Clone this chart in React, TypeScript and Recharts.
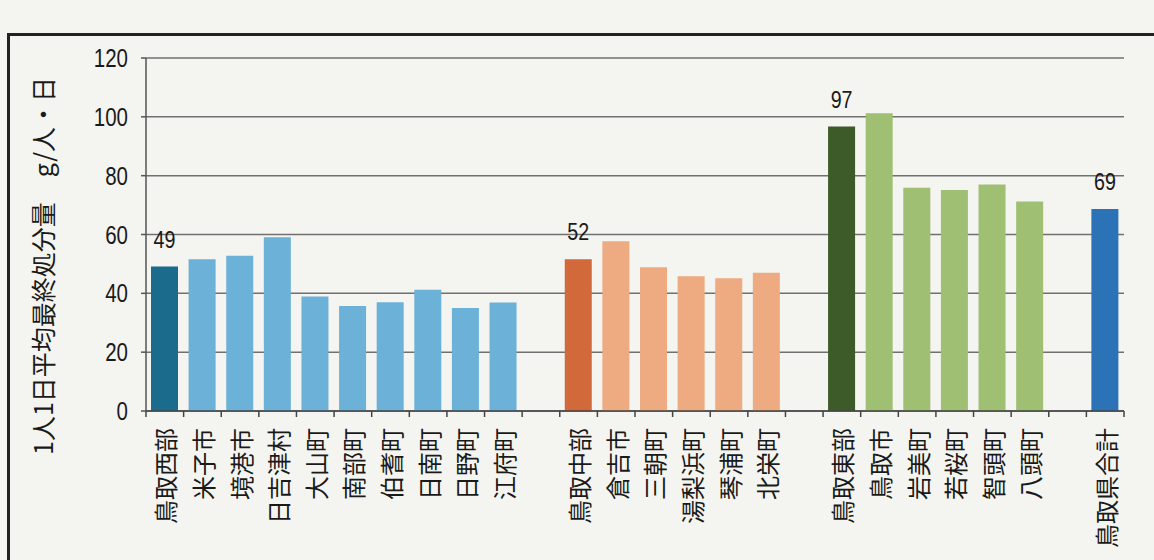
import { BarChart, Bar, XAxis, YAxis, CartesianGrid, Cell, LabelList } from 'recharts';

// 1人1日平均最終処分量（g/人・日）, 平成29(2017)年度
const categories = [
  '鳥取西部', '米子市', '境港市', '日吉津村', '大山町', '南部町', '伯耆町', '日南町', '日野町', '江府町',
  '',
  '鳥取中部', '倉吉市', '三朝町', '湯梨浜町', '琴浦町', '北栄町',
  '',
  '鳥取東部', '鳥取市', '岩美町', '若桜町', '智頭町', '八頭町',
  '',
  '鳥取県合計',
];

const values: (number | null)[] = [
  49.1, 51.6, 52.8, 59.1, 38.9, 35.7, 37.0, 41.2, 35.0, 36.9,
  null,
  51.6, 57.7, 48.9, 45.8, 45.1, 47.0,
  null,
  96.7, 101.2, 75.9, 75.1, 77.0, 71.2,
  null,
  68.7,
];

// rounded values printed above the area totals
const valueLabels = [
  '49', '', '', '', '', '', '', '', '', '',
  '',
  '52', '', '', '', '', '',
  '',
  '97', '', '', '', '', '',
  '',
  '69',
];

const barColors = [
  '#1b6c8c', '#6cb1d7', '#6cb1d7', '#6cb1d7', '#6cb1d7', '#6cb1d7', '#6cb1d7', '#6cb1d7', '#6cb1d7', '#6cb1d7',
  'none',
  '#d1693b', '#eeaa80', '#eeaa80', '#eeaa80', '#eeaa80', '#eeaa80',
  'none',
  '#3d5a29', '#9fbf73', '#9fbf73', '#9fbf73', '#9fbf73', '#9fbf73',
  'none',
  '#2b72b6',
];

const yTicks = [0, 20, 40, 60, 80, 100, 120];

const data = categories.map((name, i) => ({
  name,
  value: values[i],
  label: valueLabels[i],
}));

const NUM_FONT = '"Liberation Sans", Arial, sans-serif';
const CJK_FONT = '"Noto Sans CJK JP", "Noto Sans", sans-serif';
const NARROW = 0.82; // the printed digits are condensed

const PLOT_LEFT = 146;
const PLOT_WIDTH = 978;
const SLOT = PLOT_WIDTH / categories.length;

const NarrowNumber = ({ x, y, anchor, size, children }: any) => (
  <g transform={`translate(${x}, ${y}) scale(${NARROW}, 1)`}>
    <text x={0} y={0} textAnchor={anchor} fontSize={size} fontFamily={NUM_FONT} fill="#1a1a1a">
      {children}
    </text>
  </g>
);

const ValueTick = (props: any) => {
  const { x, y, payload } = props;
  return (
    <NarrowNumber x={x} y={y + 9} anchor="end" size={25}>
      {payload.value}
    </NarrowNumber>
  );
};

const CategoryTick = (props: any) => {
  const { x, y, payload, index } = props;
  const ty = y + 17;
  return (
    <g>
      <line x1={x - SLOT / 2} y1={y} x2={x - SLOT / 2} y2={y + 6} stroke="#444" strokeWidth={1.5} />
      {index === categories.length - 1 && (
        <line x1={x + SLOT / 2} y1={y} x2={x + SLOT / 2} y2={y + 6} stroke="#444" strokeWidth={1.5} />
      )}
      <text
        x={x}
        y={ty}
        transform={`rotate(-90, ${x}, ${ty})`}
        textAnchor="end"
        dominantBaseline="central"
        fontSize={24}
        fontFamily={CJK_FONT}
        fill="#1a1a1a"
      >
        {payload.value}
      </text>
    </g>
  );
};

const TopLabel = (props: any) => {
  const { x, y, width, value } = props;
  if (!value) return null;
  return (
    <NarrowNumber x={x + width / 2} y={y - 19} anchor="middle" size={24}>
      {value}
    </NarrowNumber>
  );
};

const AxisTitle = () => (
  <text
    x={42}
    y={266}
    transform="rotate(-90, 42, 266)"
    textAnchor="middle"
    dominantBaseline="central"
    fontSize={25}
    fontFamily={CJK_FONT}
    fill="#1a1a1a"
  >
    1人1日平均最終処分量　g/人・日
  </text>
);

export default function App() {
  return (
    <div style={{ position: 'relative', width: 1154, height: 560, background: '#f4f4f0', overflow: 'hidden' }}>
      <style>{'body { margin: 0; }'}</style>
      <div
        style={{
          position: 'absolute',
          left: 7,
          top: 33,
          width: 1160,
          height: 540,
          borderTop: '3px solid #222',
          borderLeft: '3px solid #222',
        }}
      />
      <div style={{ position: 'absolute', left: 0, top: 0 }}>
        <BarChart
          width={1154}
          height={560}
          data={data}
          margin={{ top: 58, right: 1154 - PLOT_LEFT - PLOT_WIDTH, left: 0, bottom: 9 }}
          barSize={27}
        >
          <CartesianGrid vertical={false} stroke="#707070" strokeWidth={1.5} />
          <XAxis
            dataKey="name"
            interval={0}
            height={140}
            tickLine={false}
            tickSize={0}
            tickMargin={0}
            axisLine={{ stroke: '#444', strokeWidth: 1.5 }}
            tick={<CategoryTick />}
          />
          <YAxis
            width={PLOT_LEFT}
            domain={[0, 120]}
            ticks={yTicks}
            tickSize={5}
            tickMargin={13}
            axisLine={{ stroke: '#555', strokeWidth: 1.5 }}
            tickLine={{ stroke: '#555', strokeWidth: 1.5 }}
            tick={<ValueTick />}
            label={<AxisTitle />}
          />
          <Bar dataKey="value" isAnimationActive={false}>
            {data.map((d, i) => (
              <Cell key={i} fill={barColors[i]} />
            ))}
            <LabelList dataKey="label" content={<TopLabel />} />
          </Bar>
        </BarChart>
      </div>
    </div>
  );
}
